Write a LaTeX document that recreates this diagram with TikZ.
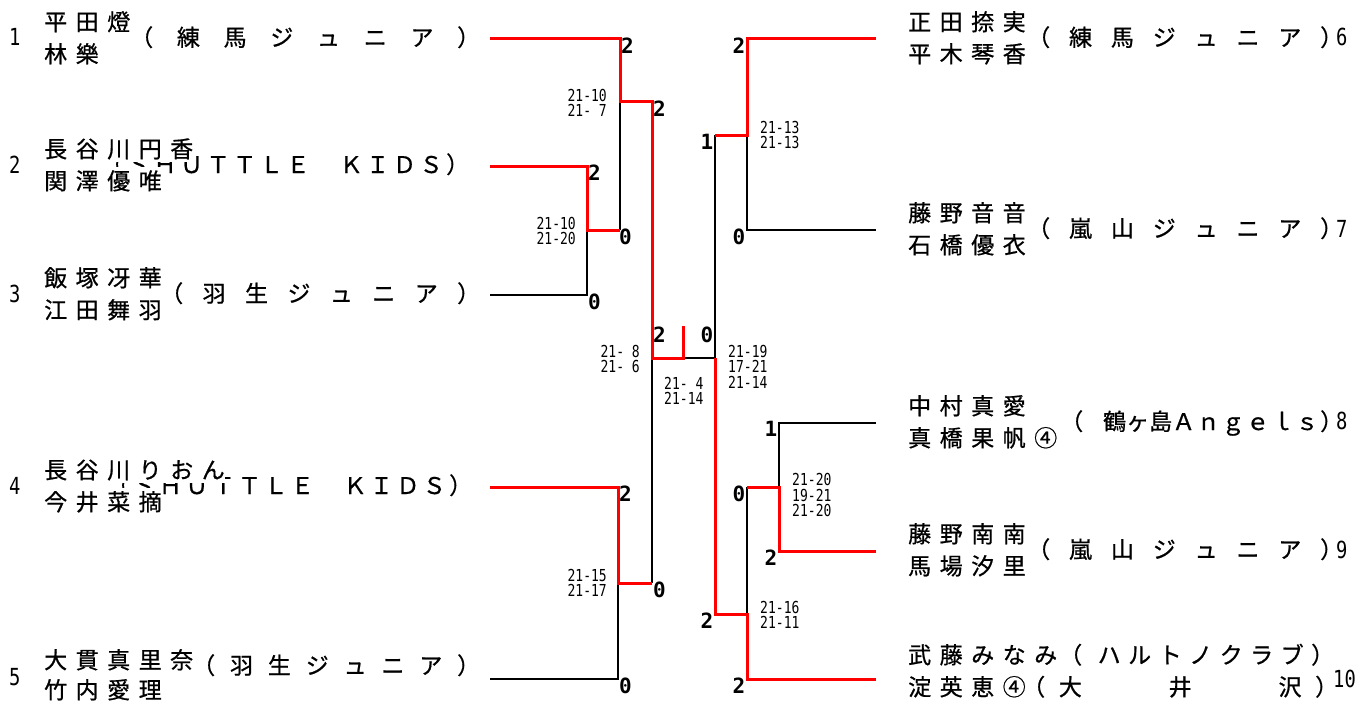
\documentclass[tikz,border=0pt]{standalone}
\usepackage{fontspec}
\setmainfont{Noto Sans CJK JP}
\newfontfamily\namefont[LetterSpace=37,FakeBold=0.7]{Noto Sans CJK JP}
\newfontfamily\teamfont[FakeBold=0.7]{Noto Sans CJK JP}
\newfontfamily\seedfont[FakeStretch=0.8]{DejaVu Sans Mono}
\newfontfamily\ptfont{DejaVu Sans Mono}
\newfontfamily\gamefont[FakeStretch=0.79]{DejaVu Sans Mono}
\newcommand\team[2]{\makebox[#1pt]{#2}}
\newcommand\rp{\makebox[12pt][l]{）}}

\begin{document}
\begin{tikzpicture}[x=1pt, y=-1pt]
    \tikzstyle{lose}=[line width=1.4pt, black]
    \tikzstyle{win}=[line width=3pt, red]
    \tikzstyle{rowa}=[anchor=base west, inner sep=0pt, fill=white, text height=22pt, text depth=4.5pt, font=\namefont\fontsize{23}{23}\selectfont]
    \tikzstyle{rowb}=[anchor=base west, inner sep=0pt, fill=white, text height=22.5pt, text depth=5pt, font=\namefont\fontsize{23}{23}\selectfont]
    \tikzstyle{teamtxt}=[anchor=base west, inner sep=0pt, font=\teamfont\fontsize{23}{23}\selectfont]
    \tikzstyle{seed}=[anchor=base west, inner sep=0pt, font=\seedfont\fontsize{23.5}{23.5}\selectfont]
    \tikzstyle{pt}=[inner sep=0pt, text height=15pt, text depth=0pt, font=\ptfont\bfseries\fontsize{21}{21}\selectfont]
    \tikzstyle{game}=[inner sep=0pt, font=\gamefont\fontsize{16.5}{15.5}\selectfont]

    \useasboundingbox (0,0) rectangle (1367,706);

    % --- teams (under the names) ---
    \node[teamtxt] (t1) at (130,46) {\team{350}{（\hfill 練\hfill 馬\hfill ジ\hfill ュ\hfill ニ\hfill ア\hfill ）}};
    \node[teamtxt] (t2) at (100,173) {\team{369}{（\hfill Ｓ\hfill Ｈ\hfill Ｕ\hfill Ｔ\hfill Ｔ\hfill Ｌ\hfill Ｅ\hfill 　\hfill Ｋ\hfill Ｉ\hfill Ｄ\hfill Ｓ\hfill ）}};
    \node[teamtxt] (t3) at (160,302) {\team{320}{（\hfill 羽\hfill 生\hfill ジ\hfill ュ\hfill ニ\hfill ア\hfill ）}};
    \node[teamtxt] (t4) at (106,494) {\team{366}{（\hfill Ｓ\hfill Ｈ\hfill Ｕ\hfill Ｔ\hfill Ｔ\hfill Ｌ\hfill Ｅ\hfill 　\hfill Ｋ\hfill Ｉ\hfill Ｄ\hfill Ｓ\hfill ）}};
    \node[teamtxt] (t5) at (192,674) {\team{288}{（\hfill 羽\hfill 生\hfill ジ\hfill ュ\hfill ニ\hfill ア\hfill ）}};
    \node[teamtxt] (t6) at (1027,46) {\team{305}{（\hfill 練\hfill 馬\hfill ジ\hfill ュ\hfill ニ\hfill ア\hfill \rp}};
    \node[teamtxt] (t7) at (1027,237) {\team{305}{（\hfill 嵐\hfill 山\hfill ジ\hfill ュ\hfill ニ\hfill ア\hfill \rp}};
    \node[teamtxt] (t8) at (1060,430) {\team{272}{（\hspace{20pt}鶴ヶ島Ａ\hfill ｎ\hfill ｇ\hfill ｅ\hfill ｌ\hfill ｓ\hfill \rp}};
    \node[teamtxt] (t9) at (1027,558) {\team{305}{（\hfill 嵐\hfill 山\hfill ジ\hfill ュ\hfill ニ\hfill ア\hfill \rp}};
    \node[teamtxt] (t10a) at (1059,663.5) {\team{264}{（\hspace{8pt}\hfill ハ\hfill ル\hfill ト\hfill ノ\hfill ク\hfill ラ\hfill ブ\hfill \rp}};
    \node[teamtxt] (t10b) at (1022,695.5) {\team{305}{（\hfill 大\hfill 　\hfill 　\hfill 井\hfill 　\hfill 　\hfill 沢\hfill \rp}};

    % --- names ---
    \node[rowa] (n1a) at (44,30.5) {平田燈};
    \node[rowb] (n1b) at (44,62.5) {林樂};
    \node[rowa] (n2a) at (44,157.5) {長谷川円香};
    \node[rowb] (n2b) at (44,189.5) {関澤優唯};
    \node[rowa] (n3a) at (44,286.5) {飯塚冴華};
    \node[rowb] (n3b) at (44,318.5) {江田舞羽};
    \node[rowa] (n4a) at (44,478.5) {長谷川りおん};
    \node[rowb] (n4b) at (44,510.5) {今井菜摘};
    \node[rowa] (n5a) at (44,668.5) {大貫真里奈};
    \node[rowb] (n5b) at (44,698.5) {竹内愛理};
    \node[rowa] (n6a) at (908,30.5) {正田捺実};
    \node[rowb] (n6b) at (908,62.5) {平木琴香};
    \node[rowa] (n7a) at (908,221.5) {藤野音音};
    \node[rowb] (n7b) at (908,253.5) {石橋優衣};
    \node[rowa] (n8a) at (908,414.5) {中村真愛};
    \node[rowb] (n8b) at (908,446.5) {真橋果帆④};
    \node[rowa] (n9a) at (908,542.5) {藤野南南};
    \node[rowb] (n9b) at (908,574.5) {馬場汐里};
    \node[rowa] (n10a) at (908,663.5) {武藤みなみ};
    \node[rowb] (n10b) at (908,695.5) {淀英恵④};

    % --- seeds ---
    \node[seed] (s1) at (9,46) {1};
    \node[seed] (s2) at (9,173) {2};
    \node[seed] (s3) at (9,302) {3};
    \node[seed] (s4) at (9,494) {4};
    \node[seed] (s5) at (9,685) {5};
    \node[seed] (s6) at (1336,46) {6};
    \node[seed] (s7) at (1336,237) {7};
    \node[seed] (s8) at (1336,429) {8};
    \node[seed] (s9) at (1336,558) {9};
    \node[seed] (s10) at (1333,687) {10};

    % --- bracket points ---
    \coordinate (e1) at (490,39);
    \coordinate (e2) at (490,166);
    \coordinate (e3) at (490,295);
    \coordinate (e4) at (490,487);
    \coordinate (e5) at (490,679);
    \coordinate (e6) at (876,39);
    \coordinate (e7) at (876,230);
    \coordinate (e8) at (876,423);
    \coordinate (e9) at (876,551);
    \coordinate (e10) at (876,679);
    \coordinate (q1) at (620,102);
    \coordinate (q2) at (587,230);
    \coordinate (q3) at (618,583);
    \coordinate (q4) at (747,135);
    \coordinate (q5) at (779,487);
    \coordinate (q6) at (747,614);
    \coordinate (sl) at (652,358);
    \coordinate (sr) at (715,358);
    \coordinate (fin) at (683,358);
    \coordinate (top) at (683,326);

    % --- losing lines ---
    \draw[lose] (e3) -| (q2);
    \draw[lose] (q1) -- (q2 -| q1);
    \draw[lose] (e5) -| (q3);
    \draw[lose] (sl) -- (q3 -| sl);
    \draw[lose] (fin) -- (sr) -- (q4 -| sr);
    \draw[lose] (e7) -| (q4);
    \draw[lose] (e8) -| (q5);
    \draw[lose] (q5 -| q6) -- (q6);

    % --- winning lines ---
    \draw[win] (e1) -| (q1) -| (sl) -- (fin) -- (top);
    \draw[win] (e2) -| (q2) -- (q2 -| q1);
    \draw[win] (e4) -| (q3) -- (q3 -| sl);
    \draw[win] (e6) -| (q4) -- (q4 -| sr);
    \draw[win] (e10) -| (q6) -| (sr);
    \draw[win] (e9) -| (q5) -- (q5 -| q6);

    % --- points ---
    \node[pt, anchor=north west] (p1) at (621,38) {2};
    \node[pt, anchor=north west] (p2) at (588,165) {2};
    \node[pt, anchor=north west] (p3) at (619,229) {0};
    \node[pt, anchor=north west] (p4) at (588,294) {0};
    \node[pt, anchor=north west] (p5) at (653,101) {2};
    \node[pt, anchor=north west] (p6) at (619,486) {2};
    \node[pt, anchor=north west] (p7) at (653,582) {0};
    \node[pt, anchor=north west] (p8) at (619,678) {0};
    \node[pt, anchor=north west] (p9) at (653,327) {2};
    \node[pt, anchor=north east] (p10) at (713.5,327) {0};
    \node[pt, anchor=north east] (p11) at (745.5,38) {2};
    \node[pt, anchor=north east] (p12) at (713.5,134) {1};
    \node[pt, anchor=north east] (p13) at (745.5,229) {0};
    \node[pt, anchor=north east] (p14) at (777.5,421) {1};
    \node[pt, anchor=north east] (p15) at (745.5,486) {0};
    \node[pt, anchor=north east] (p16) at (777.5,550) {2};
    \node[pt, anchor=north east] (p17) at (713.5,613) {2};
    \node[pt, anchor=north east] (p18) at (745.5,678) {2};

    % --- game scores ---
    \node[game, anchor=east, align=right] (g1) at (607,103) {21-10\\21- 7};
    \node[game, anchor=east, align=right] (g2) at (576,231) {21-10\\21-20};
    \node[game, anchor=east, align=right] (g3) at (607,583) {21-15\\21-17};
    \node[game, anchor=east, align=right] (g4) at (640,359) {21- 8\\21- 6};
    \node[game, anchor=west, align=left] (g5) at (664,391) {21- 4\\21-14};
    \node[game, anchor=west, align=left] (g6) at (728,366.5) {21-19\\17-21\\21-14};
    \node[game, anchor=west, align=left] (g7) at (760,135) {21-13\\21-13};
    \node[game, anchor=west, align=left] (g8) at (792,495) {21-20\\19-21\\21-20};
    \node[game, anchor=west, align=left] (g9) at (760,615) {21-16\\21-11};
\end{tikzpicture}
\end{document}
